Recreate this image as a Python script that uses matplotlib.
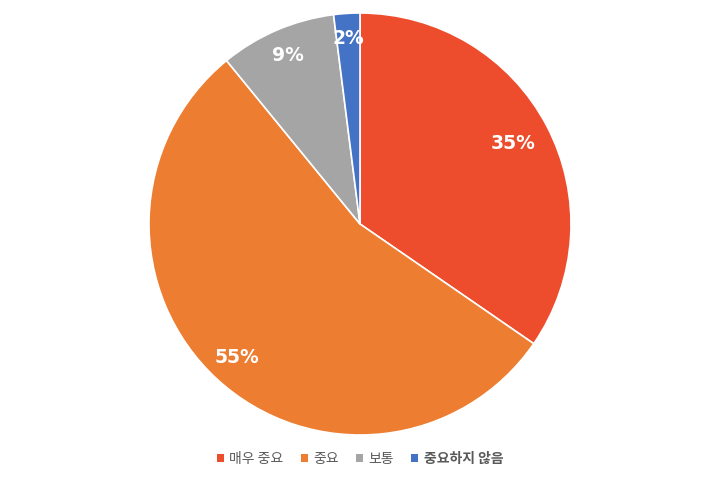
import matplotlib
matplotlib.use("Agg")
import matplotlib.pyplot as plt
import numpy as np
from matplotlib.patches import Patch

plt.rcParams['font.family'] = ['Noto Sans CJK KR', 'DejaVu Sans']

categories = ['매우 중요', '중요', '보통', '중요하지 않음']
values = [34.6, 54.5, 8.9, 2.0]
labels = ['35%', '55%', '9%', '2%']
colors = ['#EE4D2D', '#ED7D31', '#A5A5A5', '#4472C4']
label_dist = [0.82, 0.86, 0.87, 0.88]

fig = plt.figure(figsize=(7.2, 4.79), dpi=100)
ax = fig.add_axes([0, 0, 1, 1])

wedges, _ = ax.pie(values, colors=colors, startangle=90, counterclock=False,
                   radius=1.0, wedgeprops=dict(edgecolor='white', linewidth=1.2))
for w, lab, d in zip(wedges, labels, label_dist):
    ang = np.deg2rad((w.theta1 + w.theta2) / 2)
    ax.text(d * np.cos(ang), d * np.sin(ang), lab, ha='center', va='center',
            color='white', fontsize=13.5, fontweight='bold', family=['DejaVu Sans'])

ax.set_aspect('equal')
ax.set_xlim(-360 / 211, 360 / 211)
ax.set_ylim(-(479 - 224) / 211, 224 / 211)
ax.axis('off')

handles = [Patch(facecolor=c, edgecolor='none') for c in colors]
leg = fig.legend(handles, categories, loc='center', bbox_to_anchor=(0.5, 1 - 459 / 479),
                 ncol=4, frameon=False, fontsize=10, handlelength=0.5, handleheight=0.5,
                 handletextpad=0.4, columnspacing=1.25)
for t in leg.get_texts():
    t.set_color('#595959')
leg.get_texts()[3].set_fontweight('bold')

fig.savefig('out.png', dpi=100)
